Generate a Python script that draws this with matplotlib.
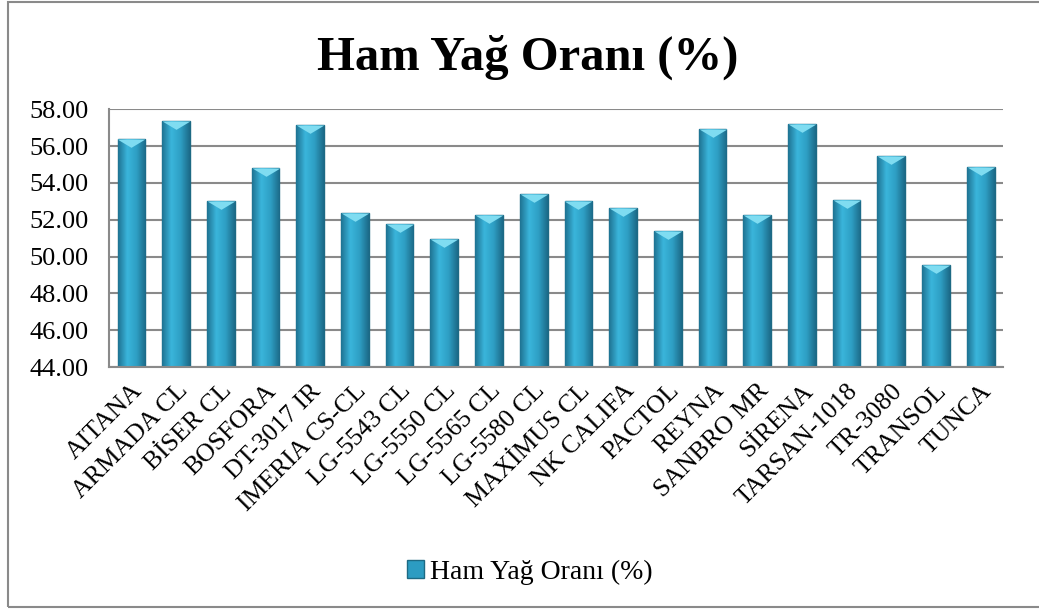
import matplotlib.pyplot as plt
import numpy as np
from matplotlib.colors import LinearSegmentedColormap
from matplotlib.patches import Rectangle
from matplotlib.path import Path

varieties = ['AITANA', 'ARMADA CL', 'BİSER CL', 'BOSFORA', 'DT-3017 IR',
             'IMERIA CS-CL', 'LG-5543 CL', 'LG-5550 CL', 'LG-5565 CL',
             'LG-5580 CL', 'MAXİMUS CL', 'NK CALIFA', 'PACTOL', 'REYNA',
             'SANBRO MR', 'SİRENA', 'TARSAN-1018', 'TR-3080', 'TRANSOL', 'TUNCA']
oil_ratio = [56.37, 57.35, 53.00, 54.79, 57.13, 52.35, 51.75, 50.93, 52.24,
             53.38, 53.00, 52.62, 51.37, 56.91, 52.24, 57.20, 53.05, 55.45,
             49.52, 54.85]
yticks = [44, 46, 48, 50, 52, 54, 56, 58]
title = 'Ham Yağ Oranı (%)'

plt.rcParams['font.family'] = ['Liberation Serif', 'DejaVu Serif']

fig = plt.figure(figsize=(10.39, 6.10), dpi=100)
ax = fig.add_axes([0.105, 0.398, 0.8604, 0.423])

x = np.arange(len(varieties))
bars = ax.bar(x, oil_ratio, width=0.62, color='#2c9cc2', edgecolor='#1d6a84',
              linewidth=1.0, zorder=2)

# horizontal shading inside each bar
cmap = LinearSegmentedColormap.from_list('bar', ['#1f7393', '#3ab5db', '#2e9fc4', '#1c6a88'])
grad = np.linspace(0, 1, 64).reshape(1, -1)
for b in bars:
    im = ax.imshow(grad, cmap=cmap, aspect='auto', zorder=2.5,
                   extent=[b.get_x(), b.get_x() + b.get_width(), 44, b.get_height()])
    im.set_clip_path(b)

# bevel on top of bars
bevel = Path([(-1, 0), (1, 0), (0, -0.6), (-1, 0)],
             [Path.MOVETO, Path.LINETO, Path.LINETO, Path.CLOSEPOLY])
ax.plot(x, oil_ratio, linestyle='none', marker=bevel, markersize=20,
        markerfacecolor='#7fdcf1', markeredgecolor='none', zorder=3)

ax.set_xlim(-0.5, len(varieties) - 0.5)
ax.set_ylim(44, 58)
ax.set_yticks(yticks)
ax.set_yticklabels([f'{v:.2f}' for v in yticks], fontsize=19)
ax.set_xticks(x)
ax.set_xticklabels(varieties, rotation=45, ha='right', rotation_mode='anchor', fontsize=18.5)
ax.tick_params(axis='y', length=0, pad=15)
ax.tick_params(axis='x', length=0, pad=9)
ax.grid(axis='y', color='#8a8a8a', linewidth=1.5, zorder=0)
ax.set_axisbelow(True)
for s in ['top', 'right']:
    ax.spines[s].set_visible(False)
for s in ['left', 'bottom']:
    ax.spines[s].set_color('#8a8a8a')
    ax.spines[s].set_linewidth(1.5)

fig.text(0.508, 0.906, title, ha='center', va='center', fontsize=35, fontweight='bold')

handle = Rectangle((0, 0), 1, 1, facecolor='#2c9cc2', edgecolor='#1d6a84')
fig.legend([handle], [title], loc='center', bbox_to_anchor=(0.51, 0.062), frameon=False,
           fontsize=20, handlelength=0.6, handleheight=0.6, handletextpad=0.2)

fig.patches.append(Rectangle((0.0077, 0.005), 1.05, 0.9925, transform=fig.transFigure,
                             fill=False, edgecolor='#8a8a8a', linewidth=1.5))

plt.savefig('out.png', dpi=100)
